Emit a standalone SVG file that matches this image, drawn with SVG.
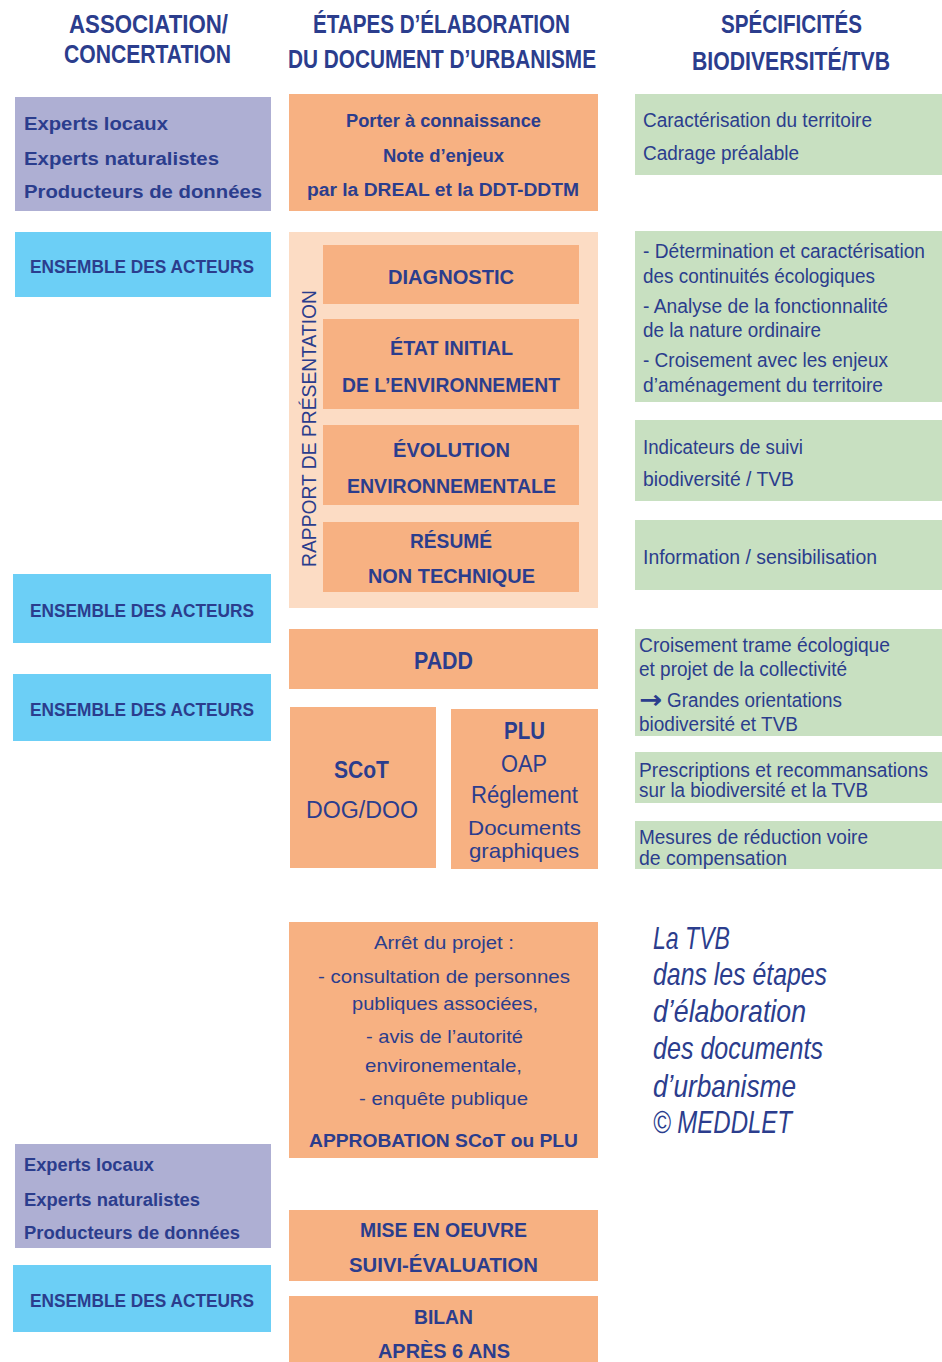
<svg xmlns="http://www.w3.org/2000/svg" width="942" height="1362" viewBox="0 0 942 1362">
<style>
text{font-family:"Liberation Sans",Arial,sans-serif;fill:#2b3d8d;}
.h{font-size:25px;font-weight:bold;}
.pb{font-size:18px;font-weight:bold;}
.g{font-size:19.5px;}
.g2{font-size:20px;}
.bl{font-size:19px;font-weight:bold;}
.in{font-size:21px;font-weight:bold;}
.big{font-size:23px;font-weight:bold;}
.bigr{font-size:23px;}
.plu{font-size:21px;}
.ar{font-size:19px;}
.arb{font-size:19px;font-weight:bold;}
.mb{font-size:20px;font-weight:bold;}
.cap{font-size:32px;font-style:italic;}
.rot{font-size:20px;}
.arrow{font-family:"DejaVu Sans",sans-serif;font-size:25px;font-weight:bold;}
.purple{fill:#aeafd3;}
.orange{fill:#f7b182;}
.peach{fill:#fcdcc4;}
.green{fill:#c8e0c1;}
.blue{fill:#6ccff6;}
</style>
<defs></defs>
<g id="headers">
<text class="h" x="69" y="33" textLength="159" lengthAdjust="spacingAndGlyphs">ASSOCIATION/</text>
<text class="h" x="64" y="63" textLength="167" lengthAdjust="spacingAndGlyphs">CONCERTATION</text>
<text class="h" x="313" y="33" textLength="257" lengthAdjust="spacingAndGlyphs">ÉTAPES D’ÉLABORATION</text>
<text class="h" x="288" y="68" textLength="308" lengthAdjust="spacingAndGlyphs">DU DOCUMENT D’URBANISME</text>
<text class="h" x="721" y="33" textLength="141" lengthAdjust="spacingAndGlyphs">SPÉCIFICITÉS</text>
<text class="h" x="692" y="70" textLength="198" lengthAdjust="spacingAndGlyphs">BIODIVERSITÉ/TVB</text>
</g>
<g id="connectors"></g>
<g id="experts1">
<rect class="purple" x="15" y="97" width="256" height="114"/>
<text class="pb" x="24" y="130" textLength="144" lengthAdjust="spacingAndGlyphs">Experts locaux</text>
<text class="pb" x="24" y="165" textLength="195" lengthAdjust="spacingAndGlyphs">Experts naturalistes</text>
<text class="pb" x="24" y="198" textLength="238" lengthAdjust="spacingAndGlyphs">Producteurs de données</text>
</g>
<g id="porter">
<rect class="orange" x="289" y="94" width="309" height="117"/>
<text class="pb" x="346" y="127" textLength="195" lengthAdjust="spacingAndGlyphs">Porter à connaissance</text>
<text class="pb" x="383" y="162" textLength="121" lengthAdjust="spacingAndGlyphs">Note d’enjeux</text>
<text class="pb" x="307" y="196" textLength="272" lengthAdjust="spacingAndGlyphs">par la DREAL et la DDT-DDTM</text>
</g>
<g id="caracterisation">
<rect class="green" x="635" y="94" width="307" height="81"/>
<text class="g" x="643" y="127" textLength="229" lengthAdjust="spacingAndGlyphs">Caractérisation du territoire</text>
<text class="g" x="643" y="160" textLength="156" lengthAdjust="spacingAndGlyphs">Cadrage préalable</text>
</g>
<g id="acteurs1">
<rect class="blue" x="15" y="232" width="256" height="65"/>
<text class="bl" x="30" y="273" textLength="224" lengthAdjust="spacingAndGlyphs">ENSEMBLE DES ACTEURS</text>
</g>
<g id="rapport">
<rect class="peach" x="289" y="232" width="309" height="376"/>
<text class="rot" transform="translate(316,567) rotate(-90)" x="0" y="0" textLength="277" lengthAdjust="spacingAndGlyphs">RAPPORT DE PRÉSENTATION</text>
</g>
<g id="diagnostic">
<rect class="orange" x="323" y="245" width="256" height="59"/>
<text class="in" x="388" y="284" textLength="126" lengthAdjust="spacingAndGlyphs">DIAGNOSTIC</text>
</g>
<g id="etat-initial">
<rect class="orange" x="323" y="319" width="256" height="90"/>
<text class="in" x="390" y="355" textLength="123" lengthAdjust="spacingAndGlyphs">ÉTAT INITIAL</text>
<text class="in" x="342" y="392" textLength="218" lengthAdjust="spacingAndGlyphs">DE L’ENVIRONNEMENT</text>
</g>
<g id="evolution">
<rect class="orange" x="323" y="425" width="256" height="80"/>
<text class="in" x="393" y="457" textLength="117" lengthAdjust="spacingAndGlyphs">ÉVOLUTION</text>
<text class="in" x="347" y="493" textLength="209" lengthAdjust="spacingAndGlyphs">ENVIRONNEMENTALE</text>
</g>
<g id="resume">
<rect class="orange" x="323" y="522" width="256" height="70"/>
<text class="in" x="410" y="548" textLength="82" lengthAdjust="spacingAndGlyphs">RÉSUMÉ</text>
<text class="in" x="368" y="583" textLength="167" lengthAdjust="spacingAndGlyphs">NON TECHNIQUE</text>
</g>
<g id="determination">
<rect class="green" x="635" y="231" width="307" height="171"/>
<text class="g" x="643" y="258" textLength="282" lengthAdjust="spacingAndGlyphs">- Détermination et caractérisation</text>
<text class="g" x="643" y="283" textLength="232" lengthAdjust="spacingAndGlyphs">des continuités écologiques</text>
<text class="g" x="643" y="313" textLength="245" lengthAdjust="spacingAndGlyphs">- Analyse de la fonctionnalité</text>
<text class="g" x="643" y="337" textLength="178" lengthAdjust="spacingAndGlyphs">de la nature ordinaire</text>
<text class="g" x="643" y="367" textLength="245" lengthAdjust="spacingAndGlyphs">- Croisement avec les enjeux</text>
<text class="g" x="643" y="392" textLength="240" lengthAdjust="spacingAndGlyphs">d’aménagement du territoire</text>
</g>
<g id="indicateurs">
<rect class="green" x="635" y="420" width="307" height="81"/>
<text class="g" x="643" y="454" textLength="160" lengthAdjust="spacingAndGlyphs">Indicateurs de suivi</text>
<text class="g" x="643" y="486" textLength="151" lengthAdjust="spacingAndGlyphs">biodiversité / TVB</text>
</g>
<g id="information">
<rect class="green" x="635" y="520" width="307" height="70"/>
<text class="g" x="643" y="564" textLength="234" lengthAdjust="spacingAndGlyphs">Information / sensibilisation</text>
</g>
<g id="acteurs2">
<rect class="blue" x="13" y="574" width="258" height="69"/>
<text class="bl" x="30" y="617" textLength="224" lengthAdjust="spacingAndGlyphs">ENSEMBLE DES ACTEURS</text>
</g>
<g id="acteurs3">
<rect class="blue" x="13" y="674" width="258" height="67"/>
<text class="bl" x="30" y="716" textLength="224" lengthAdjust="spacingAndGlyphs">ENSEMBLE DES ACTEURS</text>
</g>
<g id="padd">
<rect class="orange" x="289" y="629" width="309" height="60"/>
<text class="big" x="414" y="669" textLength="59" lengthAdjust="spacingAndGlyphs">PADD</text>
</g>
<g id="scot">
<rect class="orange" x="290" y="707" width="146" height="161"/>
<text class="big" x="334" y="778" textLength="55" lengthAdjust="spacingAndGlyphs">SCoT</text>
<text class="bigr" x="306" y="818" textLength="112" lengthAdjust="spacingAndGlyphs">DOG/DOO</text>
</g>
<g id="plu">
<rect class="orange" x="451" y="709" width="147" height="160"/>
<text class="big" x="504" y="739" textLength="41" lengthAdjust="spacingAndGlyphs">PLU</text>
<text class="bigr" x="501" y="772" textLength="46" lengthAdjust="spacingAndGlyphs">OAP</text>
<text class="bigr" x="471" y="803" textLength="107" lengthAdjust="spacingAndGlyphs">Réglement</text>
<text class="plu" x="468" y="835" textLength="113" lengthAdjust="spacingAndGlyphs">Documents</text>
<text class="plu" x="469" y="858" textLength="110" lengthAdjust="spacingAndGlyphs">graphiques</text>
</g>
<g id="croisement">
<rect class="green" x="635" y="629" width="307" height="107"/>
<text class="g2" x="639" y="652" textLength="251" lengthAdjust="spacingAndGlyphs">Croisement trame écologique</text>
<text class="g2" x="639" y="676" textLength="208" lengthAdjust="spacingAndGlyphs">et projet de la collectivité</text>
<text class="arrow" x="639" y="708" textLength="23" lengthAdjust="spacingAndGlyphs">→</text>
<text class="g2" x="667" y="707" textLength="175" lengthAdjust="spacingAndGlyphs">Grandes orientations</text>
<text class="g2" x="639" y="731" textLength="159" lengthAdjust="spacingAndGlyphs">biodiversité et TVB</text>
</g>
<g id="prescriptions">
<rect class="green" x="635" y="752" width="307" height="51"/>
<text class="g2" x="639" y="777" textLength="289" lengthAdjust="spacingAndGlyphs">Prescriptions et recommansations</text>
<text class="g2" x="639" y="797" textLength="229" lengthAdjust="spacingAndGlyphs">sur la biodiversité et la TVB</text>
</g>
<g id="mesures">
<rect class="green" x="635" y="821" width="307" height="48"/>
<text class="g2" x="639" y="844" textLength="229" lengthAdjust="spacingAndGlyphs">Mesures de réduction voire</text>
<text class="g2" x="639" y="865" textLength="148" lengthAdjust="spacingAndGlyphs">de compensation</text>
</g>
<g id="arret">
<rect class="orange" x="289" y="922" width="309" height="236"/>
<text class="ar" x="374" y="949" textLength="140" lengthAdjust="spacingAndGlyphs">Arrêt du projet :</text>
<text class="ar" x="318" y="983" textLength="252" lengthAdjust="spacingAndGlyphs">- consultation de personnes</text>
<text class="ar" x="352" y="1010" textLength="186" lengthAdjust="spacingAndGlyphs">publiques associées,</text>
<text class="ar" x="366" y="1043" textLength="157" lengthAdjust="spacingAndGlyphs">- avis de l’autorité</text>
<text class="ar" x="365" y="1072" textLength="157" lengthAdjust="spacingAndGlyphs">environementale,</text>
<text class="ar" x="359" y="1105" textLength="169" lengthAdjust="spacingAndGlyphs">- enquête publique</text>
<text class="arb" x="309" y="1147" textLength="269" lengthAdjust="spacingAndGlyphs">APPROBATION SCoT ou PLU</text>
</g>
<g id="caption">
<text class="cap" x="653" y="949" textLength="77" lengthAdjust="spacingAndGlyphs">La TVB</text>
<text class="cap" x="653" y="985" textLength="174" lengthAdjust="spacingAndGlyphs">dans les étapes</text>
<text class="cap" x="653" y="1022" textLength="153" lengthAdjust="spacingAndGlyphs">d’élaboration</text>
<text class="cap" x="653" y="1059" textLength="170" lengthAdjust="spacingAndGlyphs">des documents</text>
<text class="cap" x="653" y="1097" textLength="143" lengthAdjust="spacingAndGlyphs">d’urbanisme</text>
<text class="cap" x="653" y="1133" textLength="139" lengthAdjust="spacingAndGlyphs">© MEDDLET</text>
</g>
<g id="experts2">
<rect class="purple" x="15" y="1144" width="256" height="104"/>
<text class="pb" x="24" y="1171" textLength="130" lengthAdjust="spacingAndGlyphs">Experts locaux</text>
<text class="pb" x="24" y="1206" textLength="176" lengthAdjust="spacingAndGlyphs">Experts naturalistes</text>
<text class="pb" x="24" y="1239" textLength="216" lengthAdjust="spacingAndGlyphs">Producteurs de données</text>
</g>
<g id="acteurs4">
<rect class="blue" x="13" y="1265" width="258" height="67"/>
<text class="bl" x="30" y="1307" textLength="224" lengthAdjust="spacingAndGlyphs">ENSEMBLE DES ACTEURS</text>
</g>
<g id="mise-en-oeuvre">
<rect class="orange" x="289" y="1210" width="309" height="71"/>
<text class="mb" x="360" y="1237" textLength="167" lengthAdjust="spacingAndGlyphs">MISE EN OEUVRE</text>
<text class="mb" x="349" y="1272" textLength="189" lengthAdjust="spacingAndGlyphs">SUIVI-ÉVALUATION</text>
</g>
<g id="bilan">
<rect class="orange" x="289" y="1296" width="309" height="66"/>
<text class="mb" x="414" y="1324" textLength="59" lengthAdjust="spacingAndGlyphs">BILAN</text>
<text class="mb" x="378" y="1358" textLength="132" lengthAdjust="spacingAndGlyphs">APRÈS 6 ANS</text>
</g>
</svg>
